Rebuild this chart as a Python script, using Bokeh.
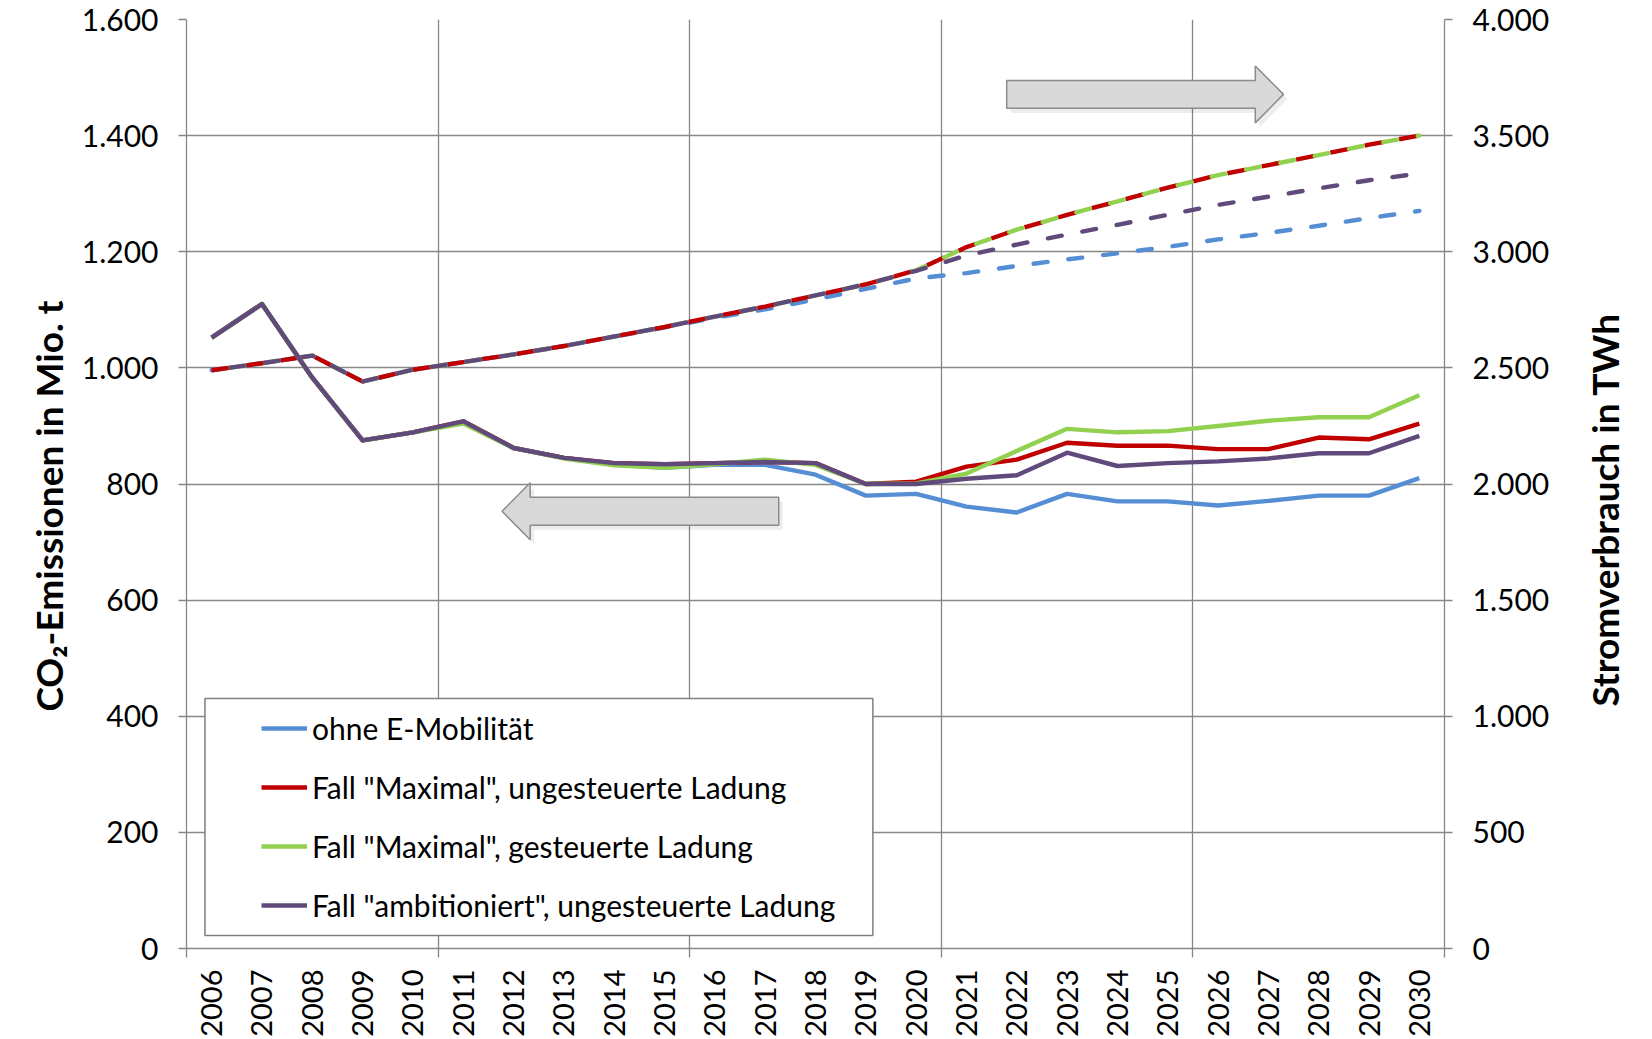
import math
from bokeh.plotting import figure
from bokeh.models import (Range1d, LinearAxis, FixedTicker, Legend, LegendItem, BoxAnnotation)
from bokeh.embed import file_html
from bokeh.resources import INLINE

# ---------------- data ----------------
years = ["2006", "2007", "2008", "2009", "2010", "2011", "2012", "2013", "2014",
         "2015", "2016", "2017", "2018", "2019", "2020", "2021", "2022", "2023",
         "2024", "2025", "2026", "2027", "2028", "2029", "2030"]

# CO2-Emissionen in Mio. t (left axis, solid lines)
co2_ohne = [1052, 1110, 983, 875, 889, 906, 862, 845, 834, 828, 833, 833, 816,
            780, 783, 761, 751, 783, 770, 770, 763, 771, 780, 780, 810]
co2_max_ungest = [1052, 1110, 983, 875, 889, 908, 862, 845, 836, 834, 836, 838, 836,
                  800, 804, 830, 842, 871, 866, 866, 860, 860, 880, 877, 904]
co2_max_gest = [1052, 1110, 983, 875, 889, 904, 862, 844, 832, 828, 834, 842, 833,
                800, 801, 818, 857, 895, 889, 891, 900, 909, 915, 915, 953]
co2_ambit = [1052, 1110, 983, 875, 889, 908, 862, 845, 836, 834, 836, 838, 836,
             800, 800, 809, 815, 854, 831, 836, 839, 844, 853, 853, 883]

# Stromverbrauch in TWh (right axis, dashed lines)
strom_ohne = [2490, 2520, 2553, 2441, 2492, 2525, 2558, 2594, 2635, 2674, 2716, 2752,
              2795, 2840, 2885, 2908, 2939, 2967, 2993, 3021, 3053, 3081, 3112, 3145, 3176]
strom_max_ungest = [2490, 2520, 2553, 2441, 2492, 2525, 2558, 2594, 2635, 2676, 2721, 2764,
                    2812, 2860, 2920, 3020, 3095, 3159, 3217, 3276, 3330, 3373, 3416, 3461, 3500]
strom_max_gest = [2490, 2520, 2553, 2441, 2492, 2525, 2558, 2594, 2635, 2676, 2721, 2764,
                  2812, 2860, 2920, 3020, 3095, 3159, 3217, 3276, 3330, 3373, 3416, 3461, 3500]
strom_ambit = [2490, 2520, 2553, 2441, 2492, 2525, 2558, 2594, 2635, 2676, 2721, 2764,
               2812, 2860, 2918, 2984, 3031, 3074, 3116, 3159, 3202, 3237, 3273, 3308, 3337]

series_labels = ["ohne E-Mobilität",
                 'Fall "Maximal", ungesteuerte Ladung',
                 'Fall "Maximal", gesteuerte Ladung',
                 'Fall "ambitioniert", ungesteuerte Ladung']

co2_ticks = [0, 200, 400, 600, 800, 1000, 1200, 1400, 1600]
co2_tick_labels = ["0", "200", "400", "600", "800", "1.000", "1.200", "1.400", "1.600"]
strom_ticks = [0, 500, 1000, 1500, 2000, 2500, 3000, 3500, 4000]
strom_tick_labels = ["0", "500", "1.000", "1.500", "2.000", "2.500", "3.000", "3.500", "4.000"]

left_title = "CO₂-Emissionen in Mio. t"
right_title = "Stromverbrauch in TWh"

# category slots: year i sits in the middle of slot [i, i+1]
xpos = [i + 0.5 for i in range(len(years))]
slot_bounds = list(range(0, len(years) + 1, 5))

# ---------------- style ----------------
FONT = "Lato"
GRID = "#868686"
BLUE = "#558ED5"
RED = "#C00000"
GREEN = "#92D050"
PURPLE = "#604A7B"
LW = 4.4
LEFT_TITLE_AT = 1116    # anchor of the left title (its upper end), left-axis units
RIGHT_TITLE_AT = 1042   # anchor of the right title (its lower end), right-axis units

p = figure(width=1652, height=1039,
           x_range=Range1d(0, len(years)), y_range=Range1d(0, 1600),
           output_backend="svg", toolbar_location=None,
           x_axis_location=None,
           min_border_left=166, min_border_right=190,
           min_border_top=19, min_border_bottom=91,
           outline_line_color=None,
           background_fill_color="white", border_fill_color="white")
p.extra_y_ranges = {"strom": Range1d(0, 4000)}

# left axis
ya = p.yaxis[0]
ya.ticker = FixedTicker(ticks=co2_ticks)
ya.major_label_overrides = dict(zip(co2_ticks, co2_tick_labels))
ya.major_label_text_font = FONT
ya.major_label_text_font_size = "30px"
ya.major_label_text_color = "black"
ya.major_label_standoff = 20
ya.major_tick_out = 8
ya.major_tick_in = 0
ya.minor_tick_line_color = None
ya.axis_line_color = GRID
ya.axis_line_width = 1.3
ya.major_tick_line_color = GRID
ya.major_tick_line_width = 1.3

# right axis
yr = LinearAxis(y_range_name="strom", ticker=FixedTicker(ticks=strom_ticks))
yr.major_label_overrides = dict(zip(strom_ticks, strom_tick_labels))
yr.major_label_text_font = FONT
yr.major_label_text_font_size = "30px"
yr.major_label_text_color = "black"
yr.major_label_standoff = 20
yr.major_tick_out = 8
yr.major_tick_in = 0
yr.minor_tick_line_color = None
yr.axis_line_color = GRID
yr.axis_line_width = 1.3
yr.major_tick_line_color = GRID
yr.major_tick_line_width = 1.3
p.add_layout(yr, "right")

# axis titles, both reading bottom-to-top (outer title-only axes)
def title_axis(range_name, at, text, standoff):
    kw = {} if range_name is None else {"y_range_name": range_name}
    return LinearAxis(ticker=FixedTicker(ticks=[at]), major_label_overrides={at: text},
                      axis_line_color=None, major_tick_line_color=None,
                      minor_tick_line_color=None, major_tick_out=0, major_tick_in=0,
                      major_label_orientation=math.pi / 2,
                      major_label_text_font=FONT, major_label_text_font_style="bold",
                      major_label_text_font_size="37px", major_label_text_color="black",
                      major_label_standoff=standoff, **kw)

p.add_layout(title_axis(None, LEFT_TITLE_AT, left_title, 30), "left")
p.add_layout(title_axis("strom", RIGHT_TITLE_AT, right_title, 52), "right")

# bottom: year labels at slot centres, tick marks every 5 slots
year_axis = LinearAxis(ticker=FixedTicker(ticks=xpos, minor_ticks=slot_bounds),
                       major_label_overrides=dict(zip(xpos, years)),
                       axis_line_color=GRID, axis_line_width=1.3,
                       major_tick_line_color=None, major_tick_out=0, major_tick_in=0,
                       minor_tick_line_color=GRID, minor_tick_line_width=1.3,
                       minor_tick_out=9, minor_tick_in=0,
                       major_label_orientation=math.pi / 2,
                       major_label_text_font=FONT, major_label_text_font_size="29px",
                       major_label_text_color="black", major_label_standoff=12)
p.add_layout(year_axis, "below")

# grids
p.xgrid.ticker = FixedTicker(ticks=slot_bounds)
p.xgrid.grid_line_color = GRID
p.xgrid.grid_line_width = 1.3
p.ygrid.ticker = FixedTicker(ticks=co2_ticks)
p.ygrid.grid_line_color = GRID
p.ygrid.grid_line_width = 1.3

# ---------------- arrows (decorations) ----------------
def block_arrow(tail, head_base, tip, y_mid, half_body, half_head):
    xs = [tail, head_base, head_base, tip, head_base, head_base, tail]
    ys = [y_mid + half_body, y_mid + half_body, y_mid + half_head, y_mid,
          y_mid - half_head, y_mid - half_body, y_mid - half_body]
    return xs, ys

for (tail, hb, tip, ym) in [(16.30, 21.24, 21.80, 1471), (11.77, 6.83, 6.27, 753)]:
    sx, sy = block_arrow(tail + 0.08, hb + 0.08, tip + 0.08, ym - 8, 24, 49)
    p.patch(sx, sy, fill_color="black", fill_alpha=0.07, line_color=None)
    ax, ay = block_arrow(tail, hb, tip, ym, 24, 49)
    p.patch(ax, ay, fill_color="#d9d9d9", line_color="#8c8c8c", line_width=1.5)

# ---------------- dashed lines (right axis) ----------------
p.line(xpos, strom_ohne, y_range_name="strom", color=BLUE, line_width=LW,
       line_dash="14 21", line_cap="round")
p.line(xpos, strom_max_ungest, y_range_name="strom", color=RED, line_width=LW,
       line_dash="19 16")
p.line(xpos, strom_max_gest, y_range_name="strom", color=GREEN, line_width=LW,
       line_dash="14 21", line_dash_offset=16, line_cap="round")
p.line(xpos, strom_ambit, y_range_name="strom", color=PURPLE, line_width=LW,
       line_dash="14 21", line_dash_offset=16, line_cap="round")

# ---------------- solid lines (left axis) ----------------
r_ohne = p.line(xpos, co2_ohne, color=BLUE, line_width=LW, line_join="round")
r_maxu = p.line(xpos, co2_max_ungest, color=RED, line_width=LW, line_join="round")
r_maxg = p.line(xpos, co2_max_gest, color=GREEN, line_width=LW, line_join="round")
r_amb = p.line(xpos, co2_ambit, color=PURPLE, line_width=LW, line_join="round")

# legend frame + legend
p.add_layout(BoxAnnotation(left=0.367, right=13.64, bottom=22.4, top=430.6,
                           fill_color="white", fill_alpha=1.0,
                           line_color="#7f7f7f", line_width=1.5, line_alpha=1.0))
legend = Legend(items=[LegendItem(label=lab, renderers=[r]) for lab, r in
                       zip(series_labels, [r_ohne, r_maxu, r_maxg, r_amb])],
                location=(75, 25), padding=0, margin=0, spacing=23,
                glyph_width=46, glyph_height=36, label_height=36, label_standoff=5,
                label_text_font=FONT, label_text_font_size="30px",
                label_text_color="black",
                border_line_color=None, background_fill_alpha=0.0)
p.add_layout(legend, "center")

open("out.html", "w").write(file_html(p, INLINE))
